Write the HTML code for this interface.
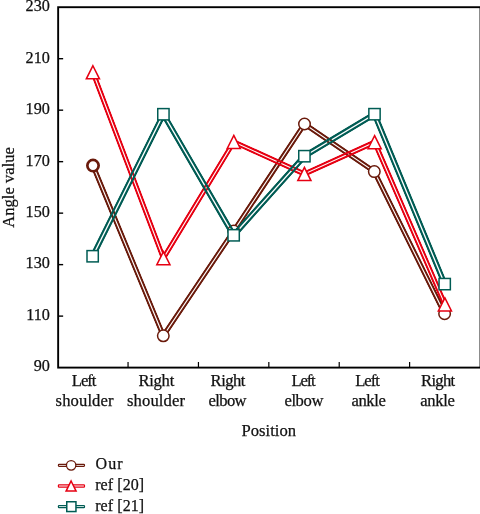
<!DOCTYPE html>
<html><head><meta charset="utf-8"><style>
html,body{margin:0;padding:0;background:#fff;}
body{width:480px;height:514px;overflow:hidden;}
svg{display:block;opacity:0.999;}
text{font-family:"Liberation Serif",serif;fill:#111;stroke:#111;stroke-width:0.25px;}
</style></head><body>
<svg width="480" height="514" viewBox="0 0 480 514">
<defs>
<mask id="m0" maskUnits="userSpaceOnUse" x="0" y="0" width="480" height="514"><polyline points="93.00,165.60 163.30,335.80 233.70,230.90 304.50,124.00 374.30,171.60 444.60,313.70" fill="none" stroke="#fff" stroke-width="5.4" stroke-linejoin="miter" stroke-miterlimit="10"/><polyline points="93.00,165.60 163.30,335.80 233.70,230.90 304.50,124.00 374.30,171.60 444.60,313.70" fill="none" stroke="#000" stroke-width="1.15" stroke-linejoin="miter" stroke-miterlimit="10"/></mask>
<mask id="m1" maskUnits="userSpaceOnUse" x="0" y="0" width="480" height="514"><polyline points="92.90,72.30 163.40,258.20 233.80,141.90 304.40,174.00 374.60,142.20 444.90,304.40" fill="none" stroke="#fff" stroke-width="5.4" stroke-linejoin="miter" stroke-miterlimit="10"/><polyline points="92.90,72.30 163.40,258.20 233.80,141.90 304.40,174.00 374.60,142.20 444.90,304.40" fill="none" stroke="#000" stroke-width="1.1" stroke-linejoin="miter" stroke-miterlimit="10"/></mask>
<mask id="m2" maskUnits="userSpaceOnUse" x="0" y="0" width="480" height="514"><polyline points="92.65,256.25 163.40,114.25 233.65,235.30 304.40,156.20 374.50,114.20 444.70,284.10" fill="none" stroke="#fff" stroke-width="6.0" stroke-linejoin="miter" stroke-miterlimit="10"/><polyline points="92.65,256.25 163.40,114.25 233.65,235.30 304.40,156.20 374.50,114.20 444.70,284.10" fill="none" stroke="#000" stroke-width="1.35" stroke-linejoin="miter" stroke-miterlimit="10"/></mask>
</defs>
<rect width="480" height="514" fill="#fff"/>
<rect x="58.15" y="7.2" width="422.35" height="360.40" fill="none" stroke="#000" stroke-width="1.9"/>
<line x1="58.15" y1="58.69" x2="63.15" y2="58.69" stroke="#000" stroke-width="1.4"/>
<line x1="58.15" y1="110.17" x2="63.15" y2="110.17" stroke="#000" stroke-width="1.4"/>
<line x1="58.15" y1="161.66" x2="63.15" y2="161.66" stroke="#000" stroke-width="1.4"/>
<line x1="58.15" y1="213.14" x2="63.15" y2="213.14" stroke="#000" stroke-width="1.4"/>
<line x1="58.15" y1="264.63" x2="63.15" y2="264.63" stroke="#000" stroke-width="1.4"/>
<line x1="58.15" y1="316.11" x2="63.15" y2="316.11" stroke="#000" stroke-width="1.4"/>
<line x1="128.05" y1="367.5" x2="128.05" y2="362.0" stroke="#000" stroke-width="1.2"/>
<line x1="198.44" y1="367.5" x2="198.44" y2="362.0" stroke="#000" stroke-width="1.2"/>
<line x1="268.83" y1="367.5" x2="268.83" y2="362.0" stroke="#000" stroke-width="1.2"/>
<line x1="339.22" y1="367.5" x2="339.22" y2="362.0" stroke="#000" stroke-width="1.2"/>
<line x1="409.61" y1="367.5" x2="409.61" y2="362.0" stroke="#000" stroke-width="1.2"/>
<text x="49.9" y="371.10" font-size="16.2" text-anchor="end">90</text>
<text x="49.9" y="319.71" font-size="16.2" text-anchor="end">110</text>
<text x="49.9" y="268.33" font-size="16.2" text-anchor="end">130</text>
<text x="49.9" y="216.94" font-size="16.2" text-anchor="end">150</text>
<text x="49.9" y="165.56" font-size="16.2" text-anchor="end">170</text>
<text x="49.9" y="114.17" font-size="16.2" text-anchor="end">190</text>
<text x="49.9" y="62.79" font-size="16.2" text-anchor="end">210</text>
<text x="49.9" y="11.40" font-size="16.2" text-anchor="end">230</text>
<text transform="translate(14.0,187.4) rotate(-90)" font-size="16.6" text-anchor="middle">Angle value</text>
<text id="l1a" x="71.80" y="386.1" font-size="16.6" style="letter-spacing:-1.000px">Left</text>
<text id="l1b" x="55.60" y="406.1" font-size="16.6" style="letter-spacing:0.114px">shoulder</text>
<text id="l2a" x="138.40" y="386.1" font-size="16.6" style="letter-spacing:-0.250px">Right</text>
<text id="l2b" x="127.00" y="406.1" font-size="16.6" style="letter-spacing:0.114px">shoulder</text>
<text id="l3a" x="210.60" y="386.1" font-size="16.6" style="letter-spacing:-0.500px">Right</text>
<text id="l3b" x="208.60" y="406.1" font-size="16.6" style="letter-spacing:-0.650px">elbow</text>
<text id="l4a" x="291.40" y="386.1" font-size="16.6" style="letter-spacing:-1.133px">Left</text>
<text id="l4b" x="284.40" y="406.1" font-size="16.6" style="letter-spacing:-0.375px">elbow</text>
<text id="l5a" x="355.20" y="386.1" font-size="16.6" style="letter-spacing:-1.000px">Left</text>
<text id="l5b" x="351.50" y="406.1" font-size="16.6" style="letter-spacing:-0.412px">ankle</text>
<text id="l6a" x="421.00" y="386.1" font-size="16.6" style="letter-spacing:-0.688px">Right</text>
<text id="l6b" x="420.20" y="406.1" font-size="16.6" style="letter-spacing:-0.338px">ankle</text>
<text id="pos" x="241.60" y="436.2" font-size="16.6" style="letter-spacing:0.000px">Position</text>
<text id="g1" x="95.60" y="469.0" font-size="16.0" style="letter-spacing:1.000px">Our</text>
<text id="g2" x="95.20" y="490.0" font-size="16.0" style="letter-spacing:0.071px">ref [20]</text>
<text id="g3" x="95.20" y="510.6" font-size="16.0" style="letter-spacing:0.071px">ref [21]</text>
<polyline points="93.00,165.60 163.30,335.80 233.70,230.90 304.50,124.00 374.30,171.60 444.60,313.70" fill="none" stroke="#6a1a0b" stroke-width="5.4" stroke-linejoin="miter" stroke-miterlimit="10" mask="url(#m0)"/>
<circle cx="93.0" cy="165.6" r="5.65" fill="#fff" stroke="#6a1a0b" stroke-width="2.7"/>
<circle cx="163.3" cy="335.8" r="5.75" fill="#fff" stroke="#6a1a0b" stroke-width="1.5"/>
<circle cx="233.7" cy="230.9" r="5.75" fill="#fff" stroke="#6a1a0b" stroke-width="1.5"/>
<circle cx="304.5" cy="124.0" r="5.75" fill="#fff" stroke="#6a1a0b" stroke-width="1.5"/>
<circle cx="374.3" cy="171.6" r="5.75" fill="#fff" stroke="#6a1a0b" stroke-width="1.5"/>
<circle cx="444.6" cy="313.7" r="5.75" fill="#fff" stroke="#6a1a0b" stroke-width="1.5"/>
<polyline points="92.90,72.30 163.40,258.20 233.80,141.90 304.40,174.00 374.60,142.20 444.90,304.40" fill="none" stroke="#e60012" stroke-width="5.4" stroke-linejoin="miter" stroke-miterlimit="10" mask="url(#m1)"/>
<polygon points="92.90,65.77 99.45,78.83 86.35,78.83" fill="#fff" stroke="#e60012" stroke-width="1.55" stroke-linejoin="miter"/>
<polygon points="163.40,251.67 169.95,264.72 156.85,264.72" fill="#fff" stroke="#e60012" stroke-width="1.55" stroke-linejoin="miter"/>
<polygon points="233.80,135.38 240.35,148.43 227.25,148.43" fill="#fff" stroke="#e60012" stroke-width="1.55" stroke-linejoin="miter"/>
<polygon points="304.40,167.47 310.95,180.53 297.85,180.53" fill="#fff" stroke="#e60012" stroke-width="1.55" stroke-linejoin="miter"/>
<polygon points="374.60,135.67 381.15,148.72 368.05,148.72" fill="#fff" stroke="#e60012" stroke-width="1.55" stroke-linejoin="miter"/>
<polygon points="444.90,297.88 451.45,310.92 438.35,310.92" fill="#fff" stroke="#e60012" stroke-width="1.55" stroke-linejoin="miter"/>
<polyline points="92.65,256.25 163.40,114.25 233.65,235.30 304.40,156.20 374.50,114.20 444.70,284.10" fill="none" stroke="#005c54" stroke-width="6.0" stroke-linejoin="miter" stroke-miterlimit="10" mask="url(#m2)"/>
<rect x="87.00" y="250.60" width="11.3" height="11.3" fill="#fff" stroke="#005c54" stroke-width="1.5"/>
<rect x="157.75" y="108.60" width="11.3" height="11.3" fill="#fff" stroke="#005c54" stroke-width="1.5"/>
<rect x="228.00" y="229.65" width="11.3" height="11.3" fill="#fff" stroke="#005c54" stroke-width="1.5"/>
<rect x="298.75" y="150.55" width="11.3" height="11.3" fill="#fff" stroke="#005c54" stroke-width="1.5"/>
<rect x="368.85" y="108.55" width="11.3" height="11.3" fill="#fff" stroke="#005c54" stroke-width="1.5"/>
<rect x="439.05" y="278.45" width="11.3" height="11.3" fill="#fff" stroke="#005c54" stroke-width="1.5"/>
<rect x="58.4" y="464.45" width="26.1" height="1.85" rx="0.7" fill="#fff" stroke="#6a1a0b" stroke-width="1.2"/>
<circle cx="71.15" cy="465.35" r="4.7" fill="#fff" stroke="#6a1a0b" stroke-width="1.3"/>
<rect x="58.4" y="484.9" width="26.1" height="2.2" rx="0.7" fill="#fff" stroke="#e60012" stroke-width="1.2"/>
<polygon points="71.1,481.00 76.1,491.10 66.1,491.10" fill="#fff" stroke="#e60012" stroke-width="1.5"/>
<rect x="58.4" y="505.6" width="26.1" height="2.1" rx="0.7" fill="#fff" stroke="#005c54" stroke-width="1.2"/>
<rect x="66.75" y="501.75" width="9.2" height="9.8" fill="#fff" stroke="#005c54" stroke-width="1.5"/>
</svg></body></html>
